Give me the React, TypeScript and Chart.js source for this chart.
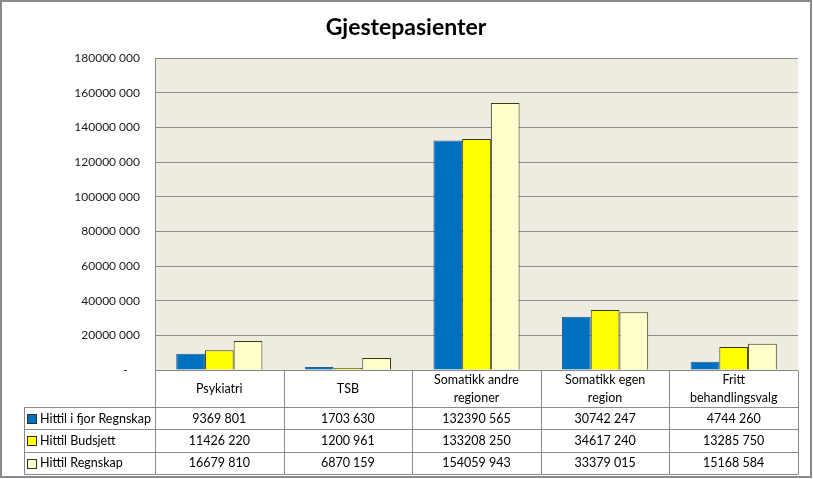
import React, { useEffect, useRef } from "react";
import { Chart, registerables } from "chart.js";
Chart.register(...registerables);

const TITLE = "Gjestepasienter";
const categories: string[][] = [
  ["Psykiatri"],
  ["TSB"],
  ["Somatikk andre", "regioner"],
  ["Somatikk egen", "region"],
  ["Fritt", "behandlingsvalg"],
];
const seriesNames = ["Hittil i fjor Regnskap", "Hittil Budsjett", "Hittil Regnskap"];
const hittilIFjorRegnskap = [9369801, 1703630, 132390565, 30742247, 4744260];
const hittilBudsjett = [11426220, 1200961, 133208250, 34617240, 13285750];
const hittilRegnskap = [16679810, 6870159, 154059943, 33379015, 15168584];
const yMin = 0;
const yMax = 180000000;
const yStep = 20000000;

const seriesColors = ["#0070C0", "#FFFF00", "#FFFFCC"];
const seriesBorders = ["#2a5f95", "#3a3a10", "#3a3a10"];
const FONT = "Lato, 'Open Sans', sans-serif";

const fmt = (v: number) => {
  if (v === 0) return "-";
  const hi = Math.floor(v / 1000);
  const lo = String(v % 1000).padStart(3, "0");
  return `${hi} ${lo}`;
};

const seriesValues = [hittilIFjorRegnskap, hittilBudsjett, hittilRegnskap];

const framePlugin = {
  id: "frame",
  beforeDraw(chart: any) {
    const { ctx, chartArea } = chart;
    ctx.save();
    ctx.fillStyle = "#ffffff";
    ctx.fillRect(0, 0, chart.width, chart.height);
    ctx.fillStyle = "#EEECE1";
    ctx.fillRect(chartArea.left, chartArea.top, chartArea.right - chartArea.left, chartArea.bottom - chartArea.top);
    ctx.restore();
  },
  afterDraw(chart: any) {
    const { ctx, chartArea } = chart;
    const { left, right, bottom } = chartArea;
    const n = categories.length;
    const colW = (right - left) / n;
    const catRowH = 37;
    const rowH = 22.3;
    const legendLeft = 24;
    const rowTops = [bottom + catRowH];
    for (let i = 1; i <= seriesNames.length; i++) rowTops.push(bottom + catRowH + i * rowH);
    const tableBottom = rowTops[rowTops.length - 1];
    const px = (v: number) => Math.round(v) + 0.5;

    ctx.save();
    ctx.strokeStyle = "#8a8a8a";
    ctx.lineWidth = 1;
    ctx.beginPath();
    ctx.moveTo(left, px(bottom));
    ctx.lineTo(right, px(bottom));
    rowTops.forEach((y) => {
      ctx.moveTo(legendLeft, px(y));
      ctx.lineTo(right, px(y));
    });
    for (let k = 0; k <= n; k++) {
      const x = px(left + k * colW);
      ctx.moveTo(x, px(bottom));
      ctx.lineTo(x, px(tableBottom));
    }
    ctx.moveTo(px(legendLeft), px(rowTops[0]));
    ctx.lineTo(px(legendLeft), px(tableBottom));
    ctx.stroke();

    // category labels
    ctx.fillStyle = "#000";
    ctx.textAlign = "center";
    ctx.textBaseline = "middle";
    ctx.font = `12.5px ${FONT}`;
    const xScale = chart.scales.x;
    categories.forEach((lines, i) => {
      const cx = xScale.getPixelForTick(i);
      const cy = bottom + catRowH / 2;
      const lh = 18;
      lines.forEach((ln, j) => {
        ctx.fillText(ln, cx, cy + (j - (lines.length - 1) / 2) * lh);
      });
    });

    // value rows
    seriesNames.forEach((name, s) => {
      const cy = rowTops[s] + rowH / 2 + 0.5;
      ctx.textAlign = "center";
      ctx.fillStyle = "#000";
      seriesValues[s].forEach((v, i) => {
        ctx.fillText(fmt(v), xScale.getPixelForTick(i), cy);
      });
      ctx.fillStyle = seriesColors[s];
      ctx.fillRect(27.5, Math.round(cy - 4.5) + 0.5, 9, 9);
      ctx.strokeStyle = "#303030";
      ctx.strokeRect(27.5, Math.round(cy - 4.5) + 0.5, 9, 9);
      ctx.fillStyle = "#000";
      ctx.textAlign = "left";
      ctx.fillText(name, 40, cy);
    });

    // title
    ctx.font = `bold 23px ${FONT}`;
    ctx.textAlign = "center";
    ctx.fillStyle = "#000";
    ctx.fillText(TITLE, 406, 28);

    // outer frame
    ctx.strokeStyle = "#8a8a8a";
    ctx.lineWidth = 2;
    ctx.strokeRect(1, 1, chart.width - 3, chart.height - 3);
    ctx.restore();
  },
};

export default function App() {
  const ref = useRef<HTMLCanvasElement | null>(null);
  useEffect(() => {
    document.body.style.margin = "0";
    const canvas = ref.current!;
    const chart = new Chart(canvas, {
      type: "bar",
      data: {
        labels: categories,
        datasets: seriesNames.map((name, s) => ({
          label: name,
          data: seriesValues[s],
          backgroundColor: seriesColors[s],
          borderColor: seriesBorders[s],
          borderWidth: 1,
          borderSkipped: "bottom",
          categoryPercentage: 0.67,
          barPercentage: 1.0,
        })),
      },
      options: {
        animation: false,
        responsive: false,
        devicePixelRatio: 1,
        layout: { padding: { left: 0, right: 15, top: 58, bottom: 109 } },
        plugins: {
          legend: { display: false },
          title: { display: false },
          tooltip: { enabled: false },
        },
        scales: {
          x: { display: false },
          y: {
            min: yMin,
            max: yMax,
            afterFit(scale: any) {
              scale.width = 155;
            },
            ticks: {
              stepSize: yStep,
              padding: 15,
              color: "#1a1a1a",
              font: { family: FONT, size: 12 },
              callback: (v: any) => (Number(v) === 0 ? "-    " : fmt(Number(v))),
            },
            grid: { color: "#8c8c8c", lineWidth: 1, drawTicks: false },
            border: { display: true, color: "#8c8c8c" },
          },
        },
      },
      plugins: [framePlugin],
    });
    return () => chart.destroy();
  }, []);
  return <canvas ref={ref} width={813} height={479} style={{ display: "block" }} />;
}
